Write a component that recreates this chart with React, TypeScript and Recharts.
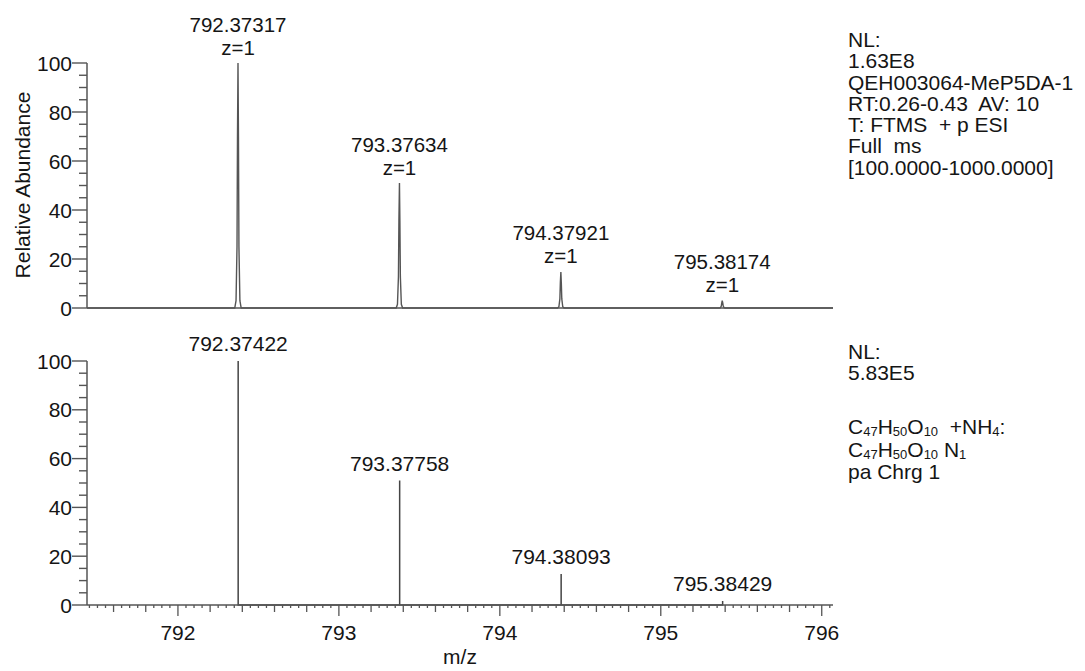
import React from 'react'
import { ComposedChart, Line, Scatter, XAxis, YAxis } from 'recharts'

// Measured (top) vs theoretical (bottom) isotope pattern, C47H50O10 + NH4

const FONT = '"Liberation Sans", Arial, Helvetica, sans-serif'
const INK = '#151515'
const STROKE = '#555555'

const MZ_DOMAIN: [number, number] = [791.435, 796.07]

// profile trace of the measured spectrum (m/z, relative abundance)
const profileA = [
  [791.435, 0], [792.353, 0], [792.361, 3], [792.367, 25], [792.37, 70],
  [792.37317, 100], [792.376, 70], [792.379, 25], [792.385, 3], [792.393, 0],
]
const profileB = [
  [793.356, 0], [793.364, 1.5], [793.37, 12.8], [793.373, 35.7],
  [793.37634, 51], [793.379, 35.7], [793.382, 12.8], [793.388, 1.5], [793.396, 0],
]
const profileC = [
  [794.359, 0], [794.367, 0.5], [794.373, 3.7], [794.376, 10.3],
  [794.37921, 14.7], [794.382, 10.3], [794.385, 3.7], [794.391, 0.5], [794.399, 0],
]
const profileD = [
  [795.362, 0], [795.37, 0.1], [795.376, 0.8], [795.379, 2.1],
  [795.38174, 3], [795.385, 2.1], [795.388, 0.8], [795.394, 0.1], [795.402, 0],
  [796.07, 0],
]

// labelled centroids of the measured spectrum
const measuredMz = [792.37317, 793.37634, 794.37921, 795.38174]
const measuredAb = [100, 51, 14.7, 3]

// theoretical isotope sticks
const theoryMz = [792.37422, 793.37758, 794.38093, 795.38429]
const theoryAb = [100, 51, 12.7, 1.6]

const abundanceTicks = [0, 5, 10, 15, 20, 25, 30, 35, 40, 45, 50, 55, 60, 65, 70, 75, 80, 85, 90, 95, 100]
const abundanceLabels = [0, 20, 40, 60, 80, 100]
const mzLabels = [792, 793, 794, 795, 796]
// axis tick marks every 0.05 m/z
const mzTicks = Array.from({ length: 93 }, (_, i) => (79145 + 5 * i) / 100)

const infoTop = [
  'NL:',
  '1.63E8',
  'QEH003064-MeP5DA-1',
  'RT:0.26-0.43  AV: 10',
  'T: FTMS  + p ESI',
  'Full  ms',
  '[100.0000-1000.0000]',
]

const profileData = [...profileA, ...profileB, ...profileC, ...profileD].map(([mz, ab]) => ({ mz, ab }))
const measuredData = measuredMz.map((mz, i) => ({ mz, ab: measuredAb[i] }))
const theoryData = theoryMz.map((mz, i) => ({ mz, ab: theoryAb[i] }))
const stickData = theoryData.flatMap((p) => [
  { mz: p.mz, ab: 0 },
  { mz: p.mz, ab: p.ab },
  { mz: p.mz, ab: 0 },
])

const textStyle = { fontFamily: FONT, fontSize: 21, fill: INK }
const tagStyle = { fontFamily: FONT, fontSize: 20.5, fill: INK }

function AbundanceTick(props: any) {
  const { x, y, payload } = props
  const v = payload.value
  const major = abundanceLabels.includes(v)
  return (
    <g>
      <line x1={x - (major ? 15 : 8)} y1={y} x2={x} y2={y} stroke={STROKE} strokeWidth={1.4} />
      {major && (
        <text x={x - 15} y={y} dy="0.36em" textAnchor="end" style={textStyle}>
          {v}
        </text>
      )}
    </g>
  )
}

function MzTick(props: any) {
  const { x, y, payload } = props
  const k = Math.round(payload.value * 100)
  const major = k % 100 === 0
  const len = major ? 11 : k % 20 === 0 ? 7 : 3
  return (
    <g>
      <line x1={x} y1={y} x2={x} y2={y + len} stroke={STROKE} strokeWidth={1.3} />
      {major && mzLabels.includes(k / 100) && (
        <text x={x} y={y + 35} textAnchor="middle" style={textStyle}>
          {k / 100}
        </text>
      )}
    </g>
  )
}

function MeasuredTag(props: any) {
  const { cx, cy, payload } = props
  return (
    <g>
      <text x={cx} y={cy - 31.5} textAnchor="middle" style={tagStyle}>
        {payload.mz.toFixed(5)}
      </text>
      <text x={cx} y={cy - 8.5} textAnchor="middle" style={tagStyle}>
        z=1
      </text>
    </g>
  )
}

function TheoryTag(props: any) {
  const { cx, cy, payload } = props
  return (
    <text x={cx} y={cy - 10} textAnchor="middle" style={textStyle}>
      {payload.mz.toFixed(5)}
    </text>
  )
}

const subStyle: React.CSSProperties = { fontSize: 13, verticalAlign: '-2px', lineHeight: 0 }

function Formula() {
  return (
    <>
      C<sub style={subStyle}>47</sub>H<sub style={subStyle}>50</sub>O<sub style={subStyle}>10</sub>
    </>
  )
}

const infoStyle: React.CSSProperties = {
  position: 'absolute',
  left: 848,
  fontFamily: FONT,
  fontSize: 21,
  lineHeight: '21.3px',
  color: INK,
  whiteSpace: 'pre',
}

export default function App() {
  return (
    <div
      style={{
        position: 'fixed',
        left: 0,
        top: 0,
        width: 1085,
        height: 671,
        background: '#fff',
        overflow: 'hidden',
      }}
    >
      <div style={{ position: 'absolute', left: 0, top: 0 }}>
        <ComposedChart width={1085} height={330} margin={{ top: 63, right: 252, bottom: 0, left: 0 }}>
          <XAxis
            type="number"
            dataKey="mz"
            domain={MZ_DOMAIN}
            allowDataOverflow
            height={22}
            tick={false}
            tickLine={false}
            axisLine={{ stroke: STROKE, strokeWidth: 1.5 }}
          />
          <YAxis
            type="number"
            domain={[0, 100]}
            width={87}
            ticks={abundanceTicks}
            interval={0}
            tickSize={0}
            tickMargin={0}
            tickLine={false}
            tick={<AbundanceTick />}
            axisLine={{ stroke: STROKE, strokeWidth: 1.5 }}
          />
          <Line
            data={profileData}
            dataKey="ab"
            type="linear"
            stroke={STROKE}
            strokeWidth={1.4}
            dot={false}
            isAnimationActive={false}
          />
          <Scatter
            data={measuredData}
            dataKey="ab"
            shape={(p: any) => <MeasuredTag {...p} />}
            isAnimationActive={false}
          />
        </ComposedChart>
      </div>

      <div style={{ position: 'absolute', left: 0, top: 330 }}>
        <ComposedChart width={1085} height={341} margin={{ top: 31, right: 252, bottom: 0, left: 0 }}>
          <XAxis
            type="number"
            dataKey="mz"
            domain={MZ_DOMAIN}
            allowDataOverflow
            height={66}
            ticks={mzTicks}
            interval={0}
            tickSize={0}
            tickMargin={0}
            tickLine={false}
            tick={<MzTick />}
            axisLine={{ stroke: STROKE, strokeWidth: 1.5 }}
          />
          <YAxis
            type="number"
            domain={[0, 100]}
            width={87}
            ticks={abundanceTicks}
            interval={0}
            tickSize={0}
            tickMargin={0}
            tickLine={false}
            tick={<AbundanceTick />}
            axisLine={{ stroke: STROKE, strokeWidth: 1.5 }}
          />
          <Line
            data={stickData}
            dataKey="ab"
            type="linear"
            stroke="#444"
            strokeWidth={1.5}
            dot={false}
            isAnimationActive={false}
          />
          <Scatter
            data={theoryData}
            dataKey="ab"
            shape={(p: any) => <TheoryTag {...p} />}
            isAnimationActive={false}
          />
        </ComposedChart>
      </div>

      <svg width={1085} height={671} style={{ position: 'absolute', left: 0, top: 0, pointerEvents: 'none' }}>
        <text
          x={22}
          y={185}
          transform="rotate(-90 22 185)"
          textAnchor="middle"
          dominantBaseline="central"
          style={textStyle}
        >
          Relative Abundance
        </text>
        <text x={460} y={664} textAnchor="middle" style={textStyle}>
          m/z
        </text>
      </svg>

      <div style={{ ...infoStyle, top: 29 }}>
        {infoTop.map((line) => (
          <div key={line}>{line}</div>
        ))}
      </div>

      <div style={{ ...infoStyle, top: 341 }}>
        <div>NL:</div>
        <div>5.83E5</div>
      </div>

      <div style={{ ...infoStyle, top: 416, lineHeight: '22.5px' }}>
        <div>
          <Formula />
          {'  +NH'}
          <sub style={subStyle}>4</sub>:
        </div>
        <div>
          <Formula /> N<sub style={subStyle}>1</sub>
        </div>
        <div>pa Chrg 1</div>
      </div>
    </div>
  )
}
